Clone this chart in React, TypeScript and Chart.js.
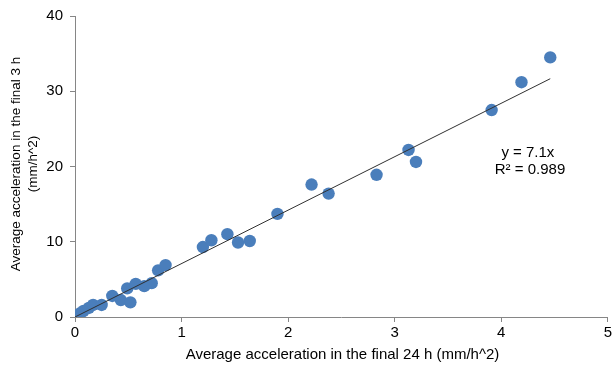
import React, { useEffect, useRef } from "react";
import { Chart, registerables } from "chart.js";

Chart.register(...registerables);

const xValues = [0.01, 0.05, 0.08, 0.13, 0.17, 0.25, 0.35, 0.43, 0.49, 0.52, 0.57, 0.65, 0.72, 0.78, 0.85, 1.2, 1.28, 1.43, 1.53, 1.64, 1.9, 2.22, 2.38, 2.83, 3.13, 3.2, 3.91, 4.19, 4.46];
const yValues = [0.2, 0.5, 0.8, 1.2, 1.6, 1.6, 2.8, 2.25, 3.8, 1.95, 4.4, 4.1, 4.5, 6.2, 6.9, 9.3, 10.2, 11.0, 9.9, 10.1, 13.7, 17.6, 16.4, 18.9, 22.2, 20.6, 27.5, 31.2, 34.5];
const slope = 7.1;
const xTicks = [0, 1, 2, 3, 4, 5];
const yTicks = [0, 10, 20, 30, 40];
const xTitle = "Average acceleration in the final 24 h (mm/h^2)";
const yTitle = ["Average acceleration in the final 3 h", "(mm/h^2)"];
const eqLines = ["y = 7.1x", "R\u00b2 = 0.989"];

const FONT = "'Liberation Sans', Arial, sans-serif";

export default function App() {
  const ref = useRef<HTMLCanvasElement>(null);
  useEffect(() => {
    document.body.style.margin = "0";
    const points = xValues.map((x, i) => ({ x, y: yValues[i] }));
    const xMax = Math.max(...xValues);
    const trend = [
      { x: 0, y: 0 },
      { x: xMax, y: slope * xMax },
    ];
    const textPlugin = {
      id: "texts",
      afterDraw(chart: any) {
        const ctx = chart.ctx;
        const xs = chart.scales.x;
        const ys = chart.scales.y;
        ctx.save();
        ctx.fillStyle = "#000";
        ctx.textAlign = "center";
        ctx.textBaseline = "middle";
        ctx.font = `15px ${FONT}`;
        ctx.fillText(xTitle, 342.5, 355);
        ctx.save();
        ctx.font = `13.5px ${FONT}`;
        ctx.translate(16, 164);
        ctx.rotate(-Math.PI / 2);
        ctx.fillText(yTitle[0], 0, 0);
        ctx.fillText(yTitle[1], 0, 17);
        ctx.restore();
        ctx.font = `15px ${FONT}`;
        ctx.fillText(eqLines[0], xs.getPixelForValue(4.25), ys.getPixelForValue(21.8));
        ctx.fillText(eqLines[1], xs.getPixelForValue(4.27), ys.getPixelForValue(19.5));
        ctx.restore();
      },
    };
    const chart = new Chart(ref.current!, {
      type: "scatter",
      data: {
        datasets: [
          {
            label: "trend",
            type: "line",
            data: trend,
            borderColor: "#303030",
            borderWidth: 1,
            pointRadius: 0,
            fill: false,
            order: 0,
          } as any,
          {
            label: "data",
            data: points,
            backgroundColor: "#4A7EBB",
            borderColor: "#4A7EBB",
            borderWidth: 0,
            pointRadius: 6.2,
            order: 1,
          },
        ],
      },
      options: {
        animation: false,
        responsive: false,
        maintainAspectRatio: false,
        layout: { padding: { top: 15, right: 0, left: 0, bottom: 0 } },
        plugins: { legend: { display: false }, tooltip: { enabled: false } },
        scales: {
          x: {
            type: "linear",
            min: 0,
            max: 5,
            afterFit: (s: any) => {
              s.height = 53;
            },
            afterBuildTicks: (s: any) => {
              s.ticks = xTicks.map((v) => ({ value: v }));
            },
            grid: { drawOnChartArea: false, drawTicks: true, tickLength: 5, color: "#868686" },
            border: { color: "#868686", width: 1 },
            ticks: { color: "#000", font: { family: FONT, size: 15 }, padding: 2, maxRotation: 0, autoSkip: false },
          },
          y: {
            type: "linear",
            min: 0,
            max: 40,
            afterFit: (s: any) => {
              s.width = 75;
            },
            afterBuildTicks: (s: any) => {
              s.ticks = yTicks.map((v) => ({ value: v }));
            },
            grid: { drawOnChartArea: false, drawTicks: true, tickLength: 5, color: "#868686" },
            border: { color: "#868686", width: 1 },
            ticks: { color: "#000", font: { family: FONT, size: 15 }, padding: 7, autoSkip: false },
          },
        },
      },
      plugins: [textPlugin],
    });
    return () => chart.destroy();
  }, []);
  return (
    <div style={{ width: 614, height: 370 }}>
      <canvas ref={ref} width={614} height={370} style={{ display: "block" }} />
    </div>
  );
}
